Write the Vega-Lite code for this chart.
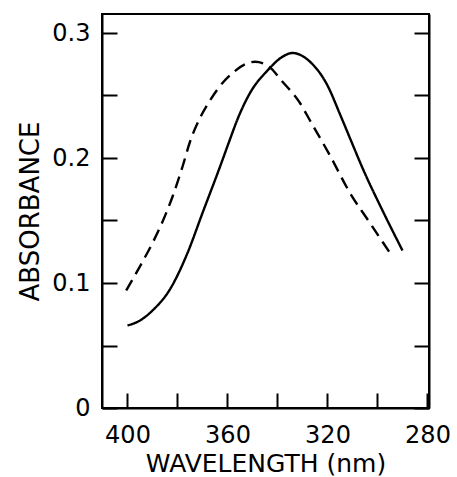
{
  "$schema": "https://vega.github.io/schema/vega-lite/v6.json",
  "autosize": "none",
  "width": 327,
  "height": 394,
  "padding": {"left": 102, "top": 14, "right": 28, "bottom": 69},
  "background": "white",
  "config": {
    "view": {"stroke": "black", "strokeWidth": 2},
    "font": "DejaVu Sans",
    "axis": {
      "domainColor": "black",
      "domainWidth": 2,
      "tickColor": "black",
      "tickWidth": 2,
      "grid": false,
      "labelFont": "DejaVu Sans",
      "titleFont": "DejaVu Sans",
      "labelColor": "black",
      "titleColor": "black",
      "labelFontWeight": "normal",
      "titleFontWeight": "normal"
    }
  },
  "data": {
    "values": [
      {"wavelength": 400, "absorbance": 0.066, "series": "solid"},
      {"wavelength": 395, "absorbance": 0.070, "series": "solid"},
      {"wavelength": 390, "absorbance": 0.078, "series": "solid"},
      {"wavelength": 383, "absorbance": 0.095, "series": "solid"},
      {"wavelength": 376, "absorbance": 0.124, "series": "solid"},
      {"wavelength": 370, "absorbance": 0.156, "series": "solid"},
      {"wavelength": 363, "absorbance": 0.193, "series": "solid"},
      {"wavelength": 359, "absorbance": 0.215, "series": "solid"},
      {"wavelength": 356, "absorbance": 0.231, "series": "solid"},
      {"wavelength": 351, "absorbance": 0.252, "series": "solid"},
      {"wavelength": 344, "absorbance": 0.270, "series": "solid"},
      {"wavelength": 338, "absorbance": 0.281, "series": "solid"},
      {"wavelength": 334, "absorbance": 0.284, "series": "solid"},
      {"wavelength": 327, "absorbance": 0.277, "series": "solid"},
      {"wavelength": 320, "absorbance": 0.258, "series": "solid"},
      {"wavelength": 315, "absorbance": 0.235, "series": "solid"},
      {"wavelength": 310, "absorbance": 0.211, "series": "solid"},
      {"wavelength": 306, "absorbance": 0.192, "series": "solid"},
      {"wavelength": 298, "absorbance": 0.158, "series": "solid"},
      {"wavelength": 290, "absorbance": 0.126, "series": "solid"},
      {"wavelength": 400.5, "absorbance": 0.094, "series": "dashed"},
      {"wavelength": 394, "absorbance": 0.117, "series": "dashed"},
      {"wavelength": 390, "absorbance": 0.132, "series": "dashed"},
      {"wavelength": 386, "absorbance": 0.149, "series": "dashed"},
      {"wavelength": 382, "absorbance": 0.169, "series": "dashed"},
      {"wavelength": 378, "absorbance": 0.193, "series": "dashed"},
      {"wavelength": 375, "absorbance": 0.213, "series": "dashed"},
      {"wavelength": 371, "absorbance": 0.232, "series": "dashed"},
      {"wavelength": 367, "absorbance": 0.246, "series": "dashed"},
      {"wavelength": 364, "absorbance": 0.255, "series": "dashed"},
      {"wavelength": 358, "absorbance": 0.268, "series": "dashed"},
      {"wavelength": 349, "absorbance": 0.277, "series": "dashed"},
      {"wavelength": 344, "absorbance": 0.274, "series": "dashed"},
      {"wavelength": 338, "absorbance": 0.261, "series": "dashed"},
      {"wavelength": 331, "absorbance": 0.244, "series": "dashed"},
      {"wavelength": 327, "absorbance": 0.230, "series": "dashed"},
      {"wavelength": 319, "absorbance": 0.202, "series": "dashed"},
      {"wavelength": 311, "absorbance": 0.172, "series": "dashed"},
      {"wavelength": 303, "absorbance": 0.148, "series": "dashed"},
      {"wavelength": 295, "absorbance": 0.124, "series": "dashed"}
    ]
  },
  "resolve": {"axis": {"y": "independent"}},
  "layer": [
    {
      "mark": {"type": "line", "color": "black", "strokeWidth": 2.4, "interpolate": "monotone"},
      "encoding": {
        "x": {
          "field": "wavelength", "type": "quantitative",
          "scale": {"domain": [410.2, 279.4], "nice": false, "zero": false},
          "axis": {
            "title": "WAVELENGTH (nm)",
            "values": [400, 380, 360, 340, 320, 300, 280],
            "labelExpr": "datum.value % 40 == 0 ? datum.label : ''",
            "tickSize": -15,
            "labelPadding": 30,
            "labelFontSize": 24,
            "titleFontSize": 25,
            "titlePadding": 4,
            "labelFlush": false
          }
        },
        "y": {
          "field": "absorbance", "type": "quantitative",
          "scale": {"domain": [0, 0.3152], "nice": false, "zero": false},
          "axis": {
            "title": "ABSORBANCE",
            "values": [0, 0.05, 0.1, 0.15, 0.2, 0.25, 0.3],
            "labelExpr": "datum.value == 0 ? '0' : (round(datum.value * 20) % 2 == 0 ? format(datum.value, '.1f') : '')",
            "tickSize": -15,
            "labelPadding": 27,
            "labelFontSize": 24,
            "titleFontSize": 26,
            "titlePadding": 8,
            "labelFlush": false
          }
        },
        "strokeDash": {
          "field": "series", "type": "nominal",
          "scale": {"domain": ["solid", "dashed"], "range": [[1, 0], [12, 7]]},
          "legend": null
        },
        "detail": {"field": "series"}
      }
    },
    {
      "mark": {"type": "line", "strokeOpacity": 0},
      "encoding": {
        "x": {"field": "wavelength", "type": "quantitative"},
        "y": {
          "field": "absorbance", "type": "quantitative",
          "axis": {
            "orient": "right",
            "title": null,
            "labels": false,
            "values": [0, 0.05, 0.1, 0.15, 0.2, 0.25, 0.3],
            "tickSize": -15
          }
        },
        "detail": {"field": "series"}
      }
    }
  ]
}
